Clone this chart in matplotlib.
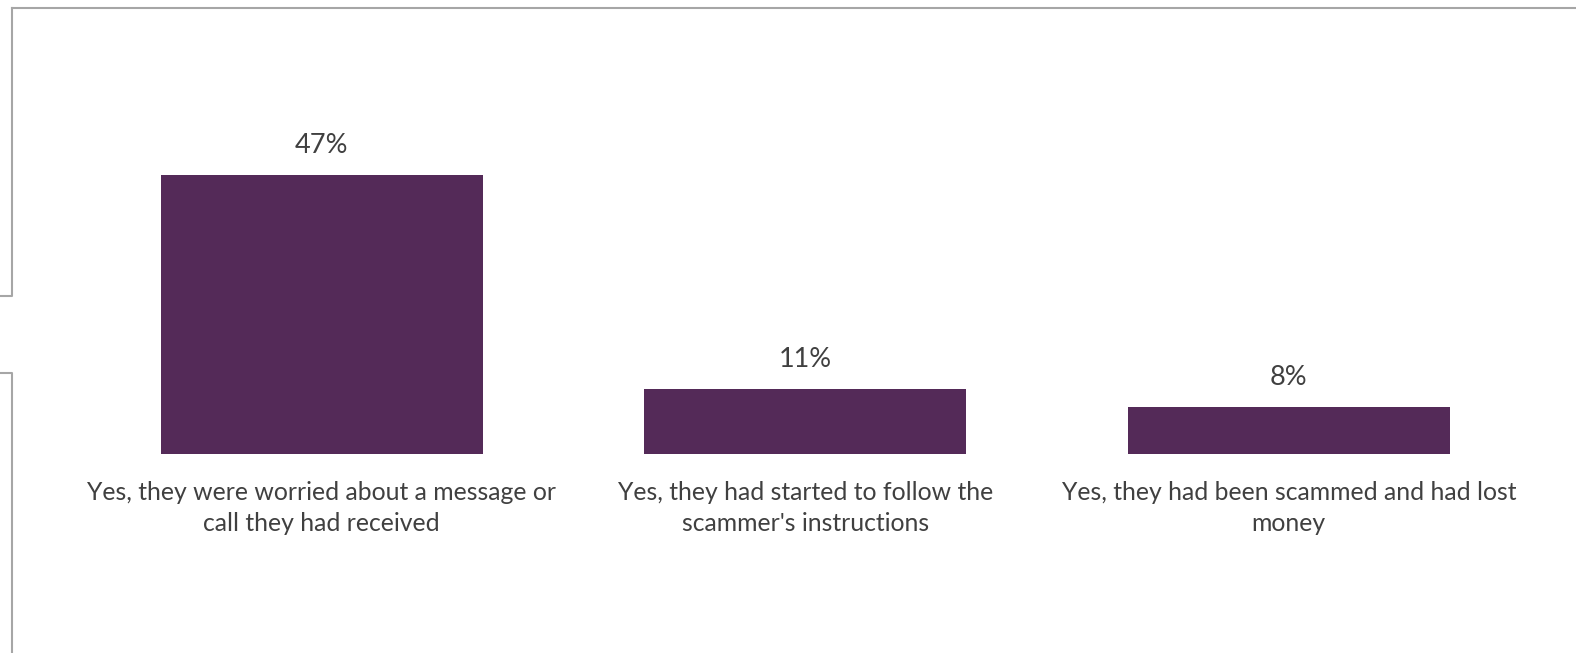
import matplotlib.pyplot as plt
from matplotlib.lines import Line2D

categories = [
    "Yes, they were worried about a message or\ncall they had received",
    "Yes, they had started to follow the\nscammer's instructions",
    "Yes, they had been scammed and had lost\nmoney",
]
values = [47, 11, 8]

bar_color = "#542A58"
text_color = "#404040"
frame_color = "#A6A6A6"

plt.rcParams["font.family"] = ["Lato", "DejaVu Sans"]

fig = plt.figure(figsize=(15.76, 6.53), dpi=100)
ax = fig.add_axes([80 / 1576, 198.7 / 653, 1450.5 / 1576, 297.3 / 653])

x = range(len(values))
bars = ax.bar(x, values, width=0.665, color=bar_color)
for xi, v in zip(x, values):
    ax.annotate(f"{v}%", (xi, v), xytext=(0, 12), textcoords="offset points",
                ha="center", va="bottom", fontsize=19.5, color=text_color)

ax.set_xlim(-0.5, 2.5)
ax.set_ylim(0, 50)
ax.set_xticks(list(x))
ax.set_xticklabels(categories, fontsize=17.8, color=text_color, linespacing=1.45)
ax.tick_params(axis="x", length=0, pad=19)
ax.set_yticks([])
for s in ax.spines.values():
    s.set_visible(False)

# grey frame lines around the chart area
x0 = 12 / 1576
y_top = 1 - 8 / 653
y_gap_top = 1 - 295.5 / 653
y_gap_bot = 1 - 373 / 653
fig.add_artist(Line2D([x0, 1], [y_top, y_top], color=frame_color, lw=1.5))
fig.add_artist(Line2D([x0, x0, 0], [y_top, y_gap_top, y_gap_top], color=frame_color, lw=1.5))
fig.add_artist(Line2D([0, x0, x0], [y_gap_bot, y_gap_bot, 0], color=frame_color, lw=1.5))

fig.savefig("out.png", dpi=100)
